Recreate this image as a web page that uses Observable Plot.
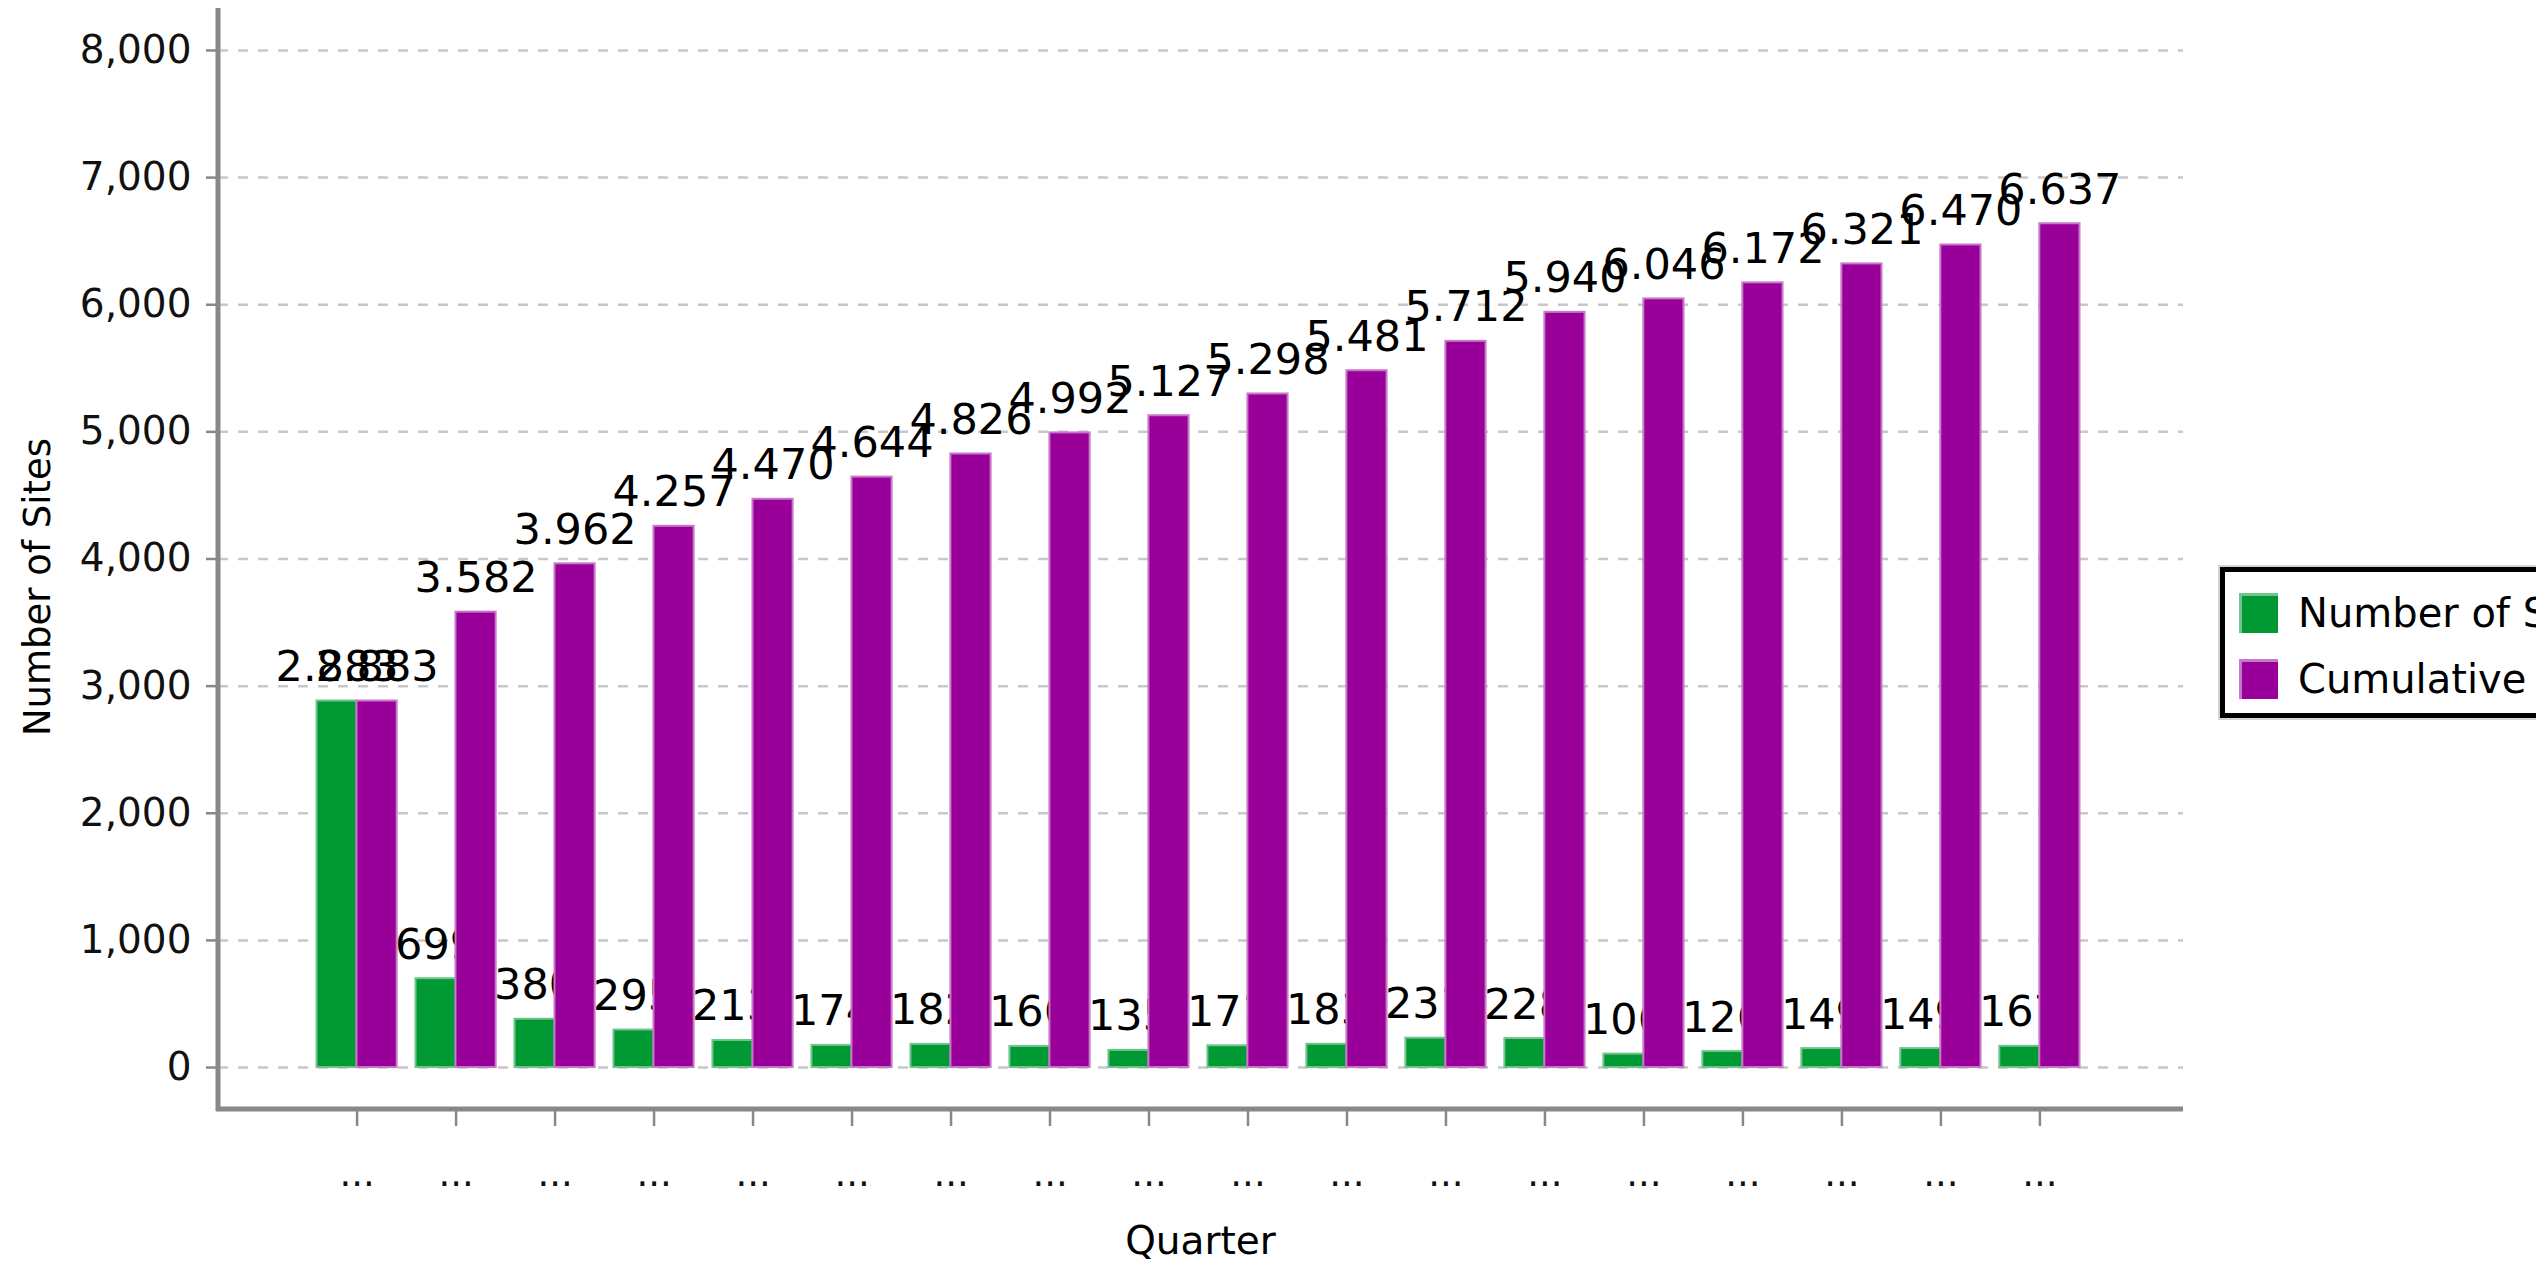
<!DOCTYPE html>
<html>
<head>
<meta charset="utf-8">
<script src="https://cdn.jsdelivr.net/npm/d3@7"></script>
<script src="https://cdn.jsdelivr.net/npm/@observablehq/plot@0.6"></script>
<style>
  html, body { margin: 0; padding: 0; background: #fff; overflow: hidden; width: 2536px; height: 1268px; }
  #chart { position: absolute; left: 0; top: 0; }
  #legend { position: absolute; left: 2220px; top: 567px; width: 520px; height: 141px; border: 5px solid #000;
            box-shadow: 0 0 0 2px #d4d4d4; background: #fff; font-family: "DejaVu Sans", sans-serif; font-size: 40px; color: #000; }
  .item { position: absolute; left: 14px; display: flex; align-items: center; white-space: nowrap; }
  .sw { display: inline-block; width: 39px; height: 40px; margin-right: 20px; box-sizing: border-box; }
</style>
</head>
<body>
<div id="chart"></div>
<div id="legend"></div>
<script>
// ---- data ----
const categories = ["Q01","Q02","Q03","Q04","Q05","Q06","Q07","Q08","Q09","Q10","Q11","Q12","Q13","Q14","Q15","Q16","Q17","Q18"];
const quarterLabels = ["...","...","...","...","...","...","...","...","...","...","...","...","...","...","...","...","...","..."];
const newSites = [2883, 699, 380, 295, 213, 174, 182, 166, 135, 171, 183, 231, 228, 106, 126, 149, 149, 167];
const cumulative = [2883, 3582, 3962, 4257, 4470, 4644, 4826, 4992, 5127, 5298, 5481, 5712, 5940, 6046, 6172, 6321, 6470, 6637];
const yTicks = [0, 1000, 2000, 3000, 4000, 5000, 6000, 7000, 8000];
const seriesNames = ["Number of Sites", "Cumulative Total"];
const seriesColors = ["#009933", "#990099"];
const seriesEdges = ["#72c48e", "#c878c8"];
const xTitle = "Quarter";
const yTitle = "Number of Sites";

const rows = categories.map((q, i) => ({quarter: q, newSites: newSites[i], cumulative: cumulative[i]}));
const labelOf = new Map(categories.map((c, i) => [c, quarterLabels[i]]));
const fmtBar = v => v.toLocaleString("de-DE");

const W = 2536, H = 1268;
const mL = 218, mR = 353, mT = 8, mB = 159;

const chart = Plot.plot({
  width: W, height: H,
  marginLeft: mL, marginRight: mR, marginTop: mT, marginBottom: mB,
  style: {fontFamily: "DejaVu Sans", background: "#fff", color: "#000", overflow: "visible"},
  x: {domain: categories, range: [316.5, 2079.5], paddingInner: 0.19, paddingOuter: 0, round: false, axis: null},
  y: {domain: [-330, 8330], axis: null},
  marks: [
    Plot.gridY(yTicks, {stroke: "#c8c8c8", strokeOpacity: 1, strokeDasharray: "10,10", strokeWidth: 2.5}),
    Plot.axisY(yTicks, {tickSize: 12, tickPadding: 15, fontSize: 39, tickFormat: d3.format(","), stroke: "#888", strokeWidth: 2.5, fill: "#111", label: null}),
    Plot.axisX(categories, {tickSize: 17, tickPadding: 33, fontSize: 37, tickFormat: d => labelOf.get(d), stroke: "#888", strokeWidth: 2.5, fill: "#111", label: null}),
    Plot.barY(rows, {x: "quarter", y: "newSites", fill: seriesColors[0], stroke: seriesEdges[0], strokeWidth: 2, insetRight: 40}),
    Plot.text(rows, {x: "quarter", y: "newSites", text: d => fmtBar(d.newSites), dx: -20, dy: -20, lineAnchor: "bottom", fontSize: 43, fill: "#000"}),
    Plot.barY(rows, {x: "quarter", y: "cumulative", fill: seriesColors[1], stroke: seriesEdges[1], strokeWidth: 2, insetLeft: 40}),
    Plot.text(rows, {x: "quarter", y: "cumulative", text: d => fmtBar(d.cumulative), dx: 20, dy: -20, lineAnchor: "bottom", fontSize: 43, fill: "#000"})
  ]
});

// axis lines and titles
const svg = d3.select(chart);
svg.append("line").attr("x1", mL).attr("x2", mL).attr("y1", mT).attr("y2", H - mB + 2)
  .attr("stroke", "#888").attr("stroke-width", 5);
svg.append("line").attr("x1", mL - 2).attr("x2", W - mR).attr("y1", H - mB).attr("y2", H - mB)
  .attr("stroke", "#888").attr("stroke-width", 5);
svg.append("text").text(xTitle)
  .attr("x", (mL + W - mR) / 2).attr("y", 1254)
  .attr("text-anchor", "middle").attr("font-family", "DejaVu Sans").attr("font-size", 39).attr("fill", "#000");
svg.append("text").text(yTitle)
  .attr("transform", "translate(50,587) rotate(-90)")
  .attr("text-anchor", "middle").attr("font-family", "DejaVu Sans").attr("font-size", 37).attr("fill", "#000");

document.getElementById("chart").appendChild(chart);

// legend
const legend = d3.select("#legend");
seriesNames.forEach((name, i) => {
  const item = legend.append("div").attr("class", "item").style("top", (18 + i * 66) + "px");
  item.append("span").attr("class", "sw")
    .style("background", seriesColors[i])
    .style("border-top", `3px solid ${seriesEdges[i]}`)
    .style("border-left", `3px solid ${seriesEdges[i]}`);
  item.append("span").text(name);
});
</script>
</body>
</html>
